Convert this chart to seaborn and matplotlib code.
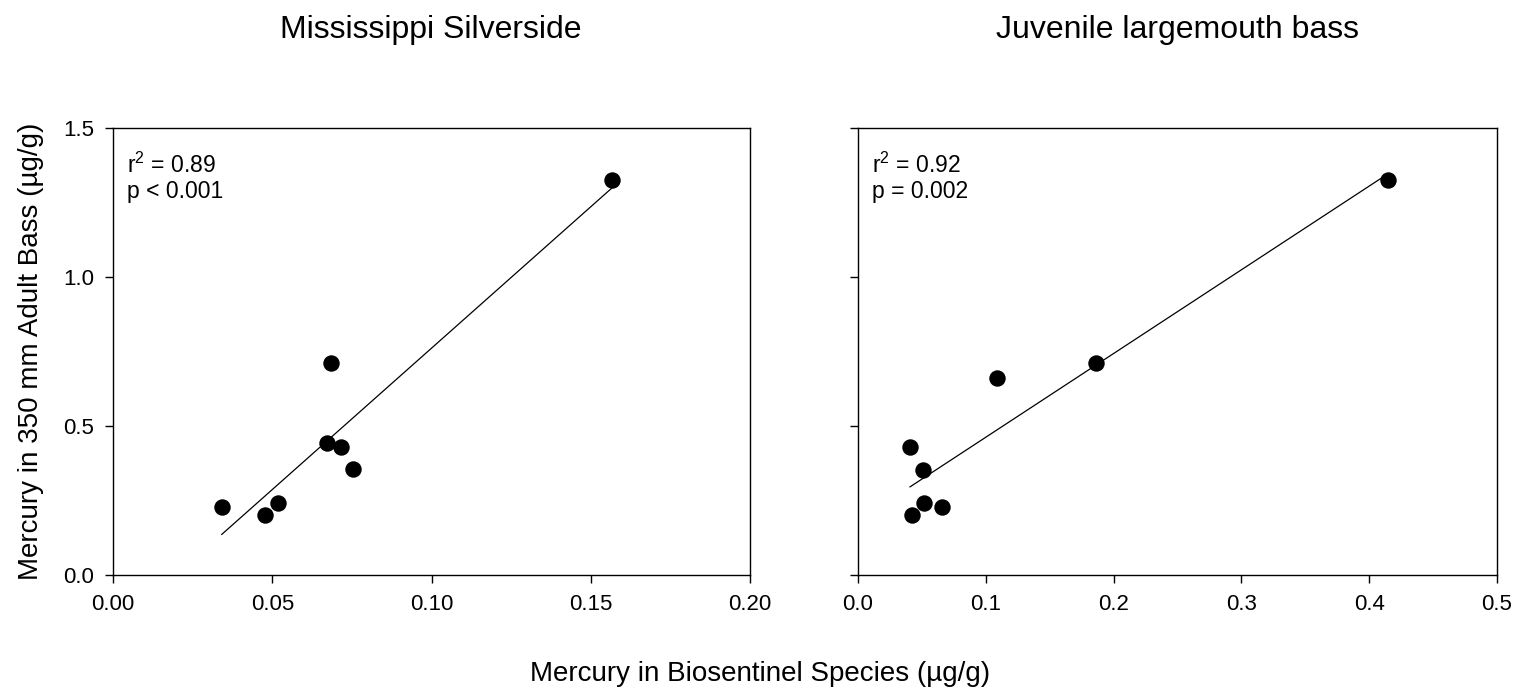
import matplotlib
matplotlib.use('Agg')
import matplotlib.pyplot as plt
import seaborn as sns
import numpy as np

# Mercury (ug/g)
silverside_x = [0.0341, 0.0476, 0.0519, 0.0672, 0.0715, 0.0752, 0.0686, 0.1568]
silverside_y = [0.229, 0.203, 0.242, 0.442, 0.428, 0.355, 0.710, 1.325]

juvenile_x = [0.0406, 0.0507, 0.0520, 0.0420, 0.0658, 0.1087, 0.1866, 0.4150]
juvenile_y = [0.428, 0.354, 0.242, 0.203, 0.229, 0.660, 0.711, 1.325]

titles = ['Mississippi Silverside', 'Juvenile largemouth bass']
r2_text = ['r$^2$ = 0.89', 'r$^2$ = 0.92']
p_text = ['p < 0.001', 'p = 0.002']
left_xticks = [0.00, 0.05, 0.10, 0.15, 0.20]
right_xticks = [0.0, 0.1, 0.2, 0.3, 0.4, 0.5]
yticks = [0.0, 0.5, 1.0, 1.5]

sns.set_style('ticks')
plt.rcParams['font.family'] = ['Liberation Sans', 'DejaVu Sans']
plt.rcParams['mathtext.fontset'] = 'custom'
plt.rcParams['mathtext.rm'] = 'Liberation Sans'
for key in ['text.color', 'axes.labelcolor', 'xtick.color', 'ytick.color', 'axes.edgecolor']:
    plt.rcParams[key] = 'black'

fig = plt.figure(figsize=(15.19, 6.92), dpi=100)
W, H = 1519, 692
ax1 = fig.add_axes([113 / W, 1 - 575 / H, 637 / W, 447 / H])
ax2 = fig.add_axes([858 / W, 1 - 575 / H, 639 / W, 447 / H])

panels = [(ax1, silverside_x, silverside_y, left_xticks, '{:.2f}'),
          (ax2, juvenile_x, juvenile_y, right_xticks, '{:.1f}')]

for i, (ax, xs, ys, xt, fmt) in enumerate(panels):
    sns.regplot(x=np.array(xs), y=np.array(ys), ax=ax, ci=None, truncate=True,
                scatter_kws=dict(s=140, color='black', linewidths=0, alpha=1, zorder=3),
                line_kws=dict(color='black', linewidth=0.9))
    ax.set_xlim(xt[0], xt[-1])
    ax.set_ylim(0, 1.5)
    ax.set_xticks(xt)
    ax.set_xticklabels([fmt.format(v) for v in xt])
    ax.set_yticks(yticks)
    if i == 0:
        ax.set_yticklabels(['{:.1f}'.format(v) for v in yticks])
    else:
        ax.set_yticklabels([])
    ax.tick_params(direction='out', length=5.5, width=1, labelsize=16, pad=8)
    for sp in ax.spines.values():
        sp.set_visible(True)
        sp.set_color('black')
        sp.set_linewidth(1)
    # stats annotation, two lines placed by baseline
    ax.text(0.022, (575 - 173) / 447, r2_text[i], transform=ax.transAxes,
            va='baseline', ha='left', fontsize=16.5)
    ax.text(0.022, (575 - 198) / 447, p_text[i], transform=ax.transAxes,
            va='baseline', ha='left', fontsize=16.5)
    ax.set_xlabel('')
    ax.set_ylabel('')

fig.text(431 / W, 1 - 38 / H, titles[0], ha='center', va='baseline', fontsize=23)
fig.text(1177 / W, 1 - 38 / H, titles[1], ha='center', va='baseline', fontsize=23)

fig.text(31 / W, 1 - 351 / H, 'Mercury in 350 mm Adult Bass (µg/g)', rotation=90,
         va='center', ha='center', fontsize=20)
fig.text(760 / W, 1 - 681 / H, 'Mercury in Biosentinel Species (µg/g)',
         va='baseline', ha='center', fontsize=20)

fig.savefig('out.png', dpi=100)
